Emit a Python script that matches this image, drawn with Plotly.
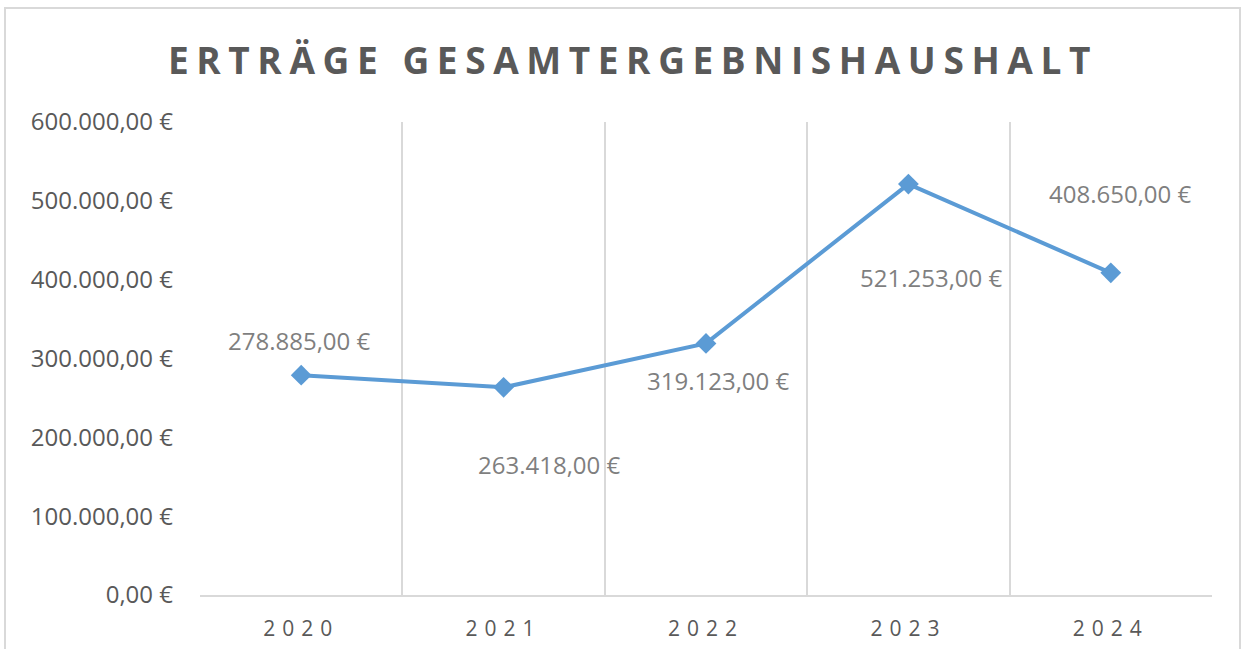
import plotly.graph_objects as go

years = ["2020", "2021", "2022", "2023", "2024"]
values = [278885, 263418, 319123, 521253, 408650]
y_ticks = [0, 100000, 200000, 300000, 400000, 500000, 600000]
title_text = "ERTR\u00c4GE GESAMTERGEBNISHAUSHALT"
EURO = "\u20ac"

# label pixel offsets (style)
label_dx = [-2, 46, 12, 23, 10]
label_dy = [35, -77, -37, -93, 79]


def de_eur(v):
    s = f"{v:,.2f}"
    s = s.replace(",", "X").replace(".", ",").replace("X", ".")
    return s + " " + EURO


y_ticktext = [de_eur(v) for v in y_ticks]

fig = go.Figure()
fig.add_trace(go.Scatter(
    x=years, y=values, mode="lines+markers",
    line=dict(color="#5b9bd5", width=4),
    marker=dict(symbol="diamond", size=16, color="#5b9bd5"),
    hoverinfo="skip", showlegend=False,
))

for i, (v, dx, dy) in enumerate(zip(values, label_dx, label_dy)):
    fig.add_annotation(x=i, y=v, xref="x", yref="y", text=de_eur(v), showarrow=False,
                       xshift=dx, yshift=dy,
                       font=dict(family="Open Sans", size=24, color="#7f7f7f"))

fig.add_annotation(xref="paper", yref="paper", x=(632 - 200) / 1012, y=(595 - 59) / 473,
                   text="<b>" + title_text + "</b>", showarrow=False,
                   xanchor="center", yanchor="middle",
                   font=dict(family="Open Sans", size=37, color="#595959"))

fig.add_shape(type="rect", xref="paper", yref="paper",
              x0=(5 - 200) / 1012, x1=(1240 - 200) / 1012,
              y0=(595 - 660) / 473, y1=(595 - 8) / 473,
              line=dict(color="#d9d9d9", width=2), fillcolor="rgba(0,0,0,0)", layer="below")

fig.update_layout(
    width=1246, height=649,
    margin=dict(l=200, r=34, t=122, b=54, autoexpand=False),
    paper_bgcolor="white", plot_bgcolor="white",
    xaxis=dict(
        type="category", range=[-0.5, 4.5], tickson="boundaries", automargin=False,
        showgrid=True, gridcolor="#d9d9d9", gridwidth=1.5,
        showline=True, linecolor="#d9d9d9", linewidth=2,
        ticks="", ticklen=0, ticklabelstandoff=14,
        tickfont=dict(family="Open Sans", size=21, color="#595959"),
    ),
    yaxis=dict(
        range=[0, 600000], tickvals=y_ticks, ticktext=y_ticktext, automargin=False,
        showgrid=False, zeroline=False, showline=False, ticks="",
        ticklabelstandoff=26,
        tickfont=dict(family="Open Sans", size=24, color="#595959"),
    ),
)

post = """
document.body.style.margin='0';
document.body.style.overflow='hidden';
var gd = document.getElementById('{plot_id}');
function spacing() {
  gd.querySelectorAll('.xtick text').forEach(function(t){
    t.style.letterSpacing='7px';
  });
  gd.querySelectorAll('text.annotation-text').forEach(function(t){
    if (t.textContent.indexOf('GESAMT') >= 0) { t.style.letterSpacing='7.6px'; t.setAttribute('dx','1'); }
  });
}
spacing();
setTimeout(spacing, 0);
setTimeout(spacing, 200);
if (gd.on) { gd.on('plotly_afterplot', spacing); }
"""

fig.write_html("out.html", config={"displayModeBar": False}, post_script=post)
